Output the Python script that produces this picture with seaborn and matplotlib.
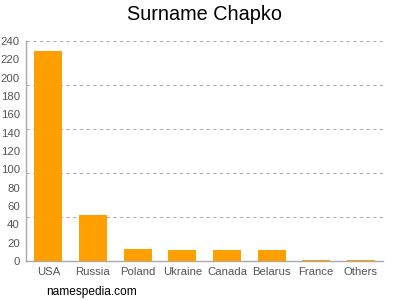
import matplotlib
matplotlib.use("Agg")
import matplotlib.pyplot as plt
import seaborn as sns
import pandas as pd

categories = ["USA", "Russia", "Poland", "Ukraine", "Canada", "Belarus", "France", "Others"]
values = [229, 50, 13, 12, 12, 12, 1.5, 1.5]
yticks = list(range(0, 241, 20))
gridlines = [48, 96, 144, 192, 240]

sns.set_style("white")
plt.rcParams['font.family'] = ['Liberation Sans', 'DejaVu Sans']

df = pd.DataFrame({"country": categories, "count": values})

fig = plt.figure(figsize=(4, 3), dpi=100)
ax = fig.add_axes([0.065, 0.13, 0.893, 0.733])
sns.barplot(data=df, x="country", y="count", color="#FFA000", saturation=1,
            width=0.63, linewidth=0, ax=ax, zorder=3)

ax.set_ylim(0, 240)
ax.set_xlim(-0.5, len(categories) - 0.5)
ax.set_yticks(yticks)
for g in gridlines:
    ax.axhline(g, color="#b0b0b0", linestyle=(0, (3, 3)), linewidth=0.8, zorder=1)
ax.set_xlabel("")
ax.set_ylabel("")
for s in ["top", "right"]:
    ax.spines[s].set_visible(False)
for s in ["left", "bottom"]:
    ax.spines[s].set_color("#aaaaaa")
    ax.spines[s].set_linewidth(1)
ax.tick_params(axis="both", colors="#aaaaaa", length=3, width=1, labelsize=8.2,
               labelcolor="#555555", pad=1.5)
ax.set_title("Surname Chapko", fontsize=14.3, color="#000000", pad=15)
fig.text(0.115, 0.015, "namespedia.com", fontsize=8.6, color="#000000")
fig.savefig("out.png", dpi=100)
